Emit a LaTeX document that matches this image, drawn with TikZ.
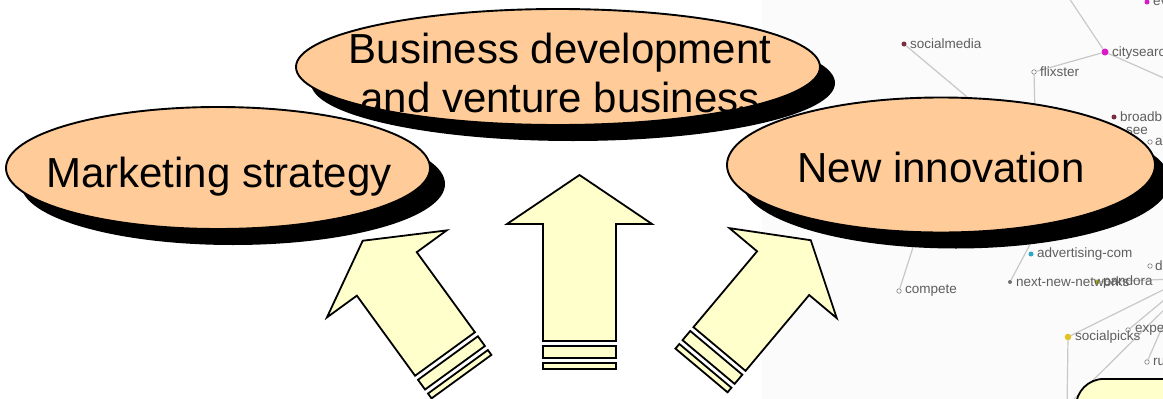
\documentclass[tikz,border=0pt]{standalone}
\usepackage{fontspec}
\setmainfont{Liberation Sans}
\usetikzlibrary{shapes.geometric,shadows}
\definecolor{peach}{HTML}{FFCC99}
\definecolor{paleyellow}{HTML}{FFFFCC}
\definecolor{netline}{HTML}{C8C8C8}
\definecolor{netlabel}{HTML}{5E5E5E}
\definecolor{netbg}{HTML}{FBFBFB}
\definecolor{magentadot}{HTML}{D81AC8}
\definecolor{darkreddot}{HTML}{7A2E40}
\definecolor{cyandot}{HTML}{2EA6C8}
\definecolor{greendot}{HTML}{A8B020}
\definecolor{yellowdot}{HTML}{E2C21E}
\definecolor{graydot}{HTML}{707070}
\newcommand\fatarrow[6]{%
  \begin{scope}[shift={#1}, rotate=#2]
    \filldraw[arrowbody] (-#3,0) -- (#3,0) -- (#3,-#4) -- (#5,-#4) -- (0,-#4-#6) -- (-#5,-#4) -- (-#3,-#4) -- cycle;
    \filldraw[arrowbody] (-#3,5) rectangle (#3,17);
    \filldraw[arrowbody] (-#3,22) rectangle (#3,28);
  \end{scope}}
\tikzset{
  bubble/.style={ellipse, draw=black, line width=1.9pt, fill=peach, inner sep=0pt,
    drop shadow={shadow xshift=15pt, shadow yshift=-16pt, fill=black, opacity=1}},
  bigtext/.style={font=\fontsize{42}{49}\selectfont, text=black, inner sep=0pt, align=center},
  arrowbody/.style={draw=black, line width=1.8pt, fill=paleyellow, line join=miter},
  netdot/.style={circle, inner sep=0pt, minimum size=5pt},
  hollowdot/.style={circle, draw=netlabel!80, fill=white, line width=0.6pt, inner sep=0pt, minimum size=4.5pt},
  netlab/.style={font=\fontsize{13.5}{14}\selectfont, text=netlabel, inner sep=0pt, anchor=west},
  netedge/.style={draw=netline, line width=1.2pt},
}
\begin{document}
\begin{tikzpicture}[x=1pt, y=-1pt]
\useasboundingbox (0,0) rectangle (1163,399);
% background network screenshot
\fill[netbg] (762,0) rectangle (1163,399);
\coordinate (e1) at (1067,-5);
\coordinate (e2) at (1175,83);
\coordinate (e3) at (1035,115);
\coordinate (e4) at (985,112);
\coordinate (e5) at (917,235);
\coordinate (e6) at (1035,235);
\coordinate (e7) at (1175,279);
\coordinate (e8) at (1175,284);
\coordinate (e9) at (1175,291);
\coordinate (e10) at (1175,298);
\coordinate (e11) at (1060,413);
\coordinate (e12) at (1178,296);
\coordinate (e13) at (1067,410);
\node[netdot, fill=magentadot] (ev) at (1147,2) {};
\node[netdot, fill=magentadot, minimum size=7pt] (cs) at (1105,52) {};
\node[hollowdot] (fx) at (1034,72) {};
\node[netdot, fill=darkreddot] (sm) at (904,44) {};
\node[netdot, fill=darkreddot] (bb) at (1114,117) {};
\node[hollowdot] (na) at (1150,142) {};
\node[netdot, fill=cyandot] (ad) at (1031,254) {};
\node[hollowdot] (nd) at (1150,266) {};
\node[netdot, fill=graydot, minimum size=4pt] (nn) at (1010,282) {};
\node[netdot, fill=greendot] (pd) at (1097,282) {};
\node[hollowdot] (cp) at (899,291) {};
\node[netdot, fill=yellowdot, minimum size=6.5pt] (sp) at (1068,337) {};
\node[hollowdot] (ex) at (1128,330) {};
\node[hollowdot] (ru) at (1147,362) {};
\draw[netedge] (e1) -- (cs);
\draw[netedge] (cs) -- (fx);
\draw[netedge] (cs) -- (e2);
\draw[netedge] (fx) -- (e3);
\draw[netedge] (sm) -- (e4);
\draw[netedge] (cp) -- (e5);
\draw[netedge] (nn) -- (e6);
\draw[netedge] (pd) -- (e7);
\draw[netedge] (e8) -- (sp);
\draw[netedge] (e9) -- (ex);
\draw[netedge] (e10) -- (ru);
\draw[netedge] (e11) -- (e12);
\draw[netedge] (sp) -- (e13);
\node[netlab] (evl) at (1153,2) {ev};
\node[netlab] (csl) at (1112,53) {citysearch};
\node[netlab] (fxl) at (1040,72) {flixster};
\node[netlab] (sml) at (910,44) {socialmedia};
\node[netlab] (bbl) at (1120,117) {broadb};
\node[netlab] (seel) at (1126,131) {see};
\node[netlab] (nal) at (1155,142) {a};
\node[netlab] (adl) at (1037,254) {advertising-com};
\node[netlab] (ndl) at (1155,266) {d};
\node[netlab] (nnl) at (1016,282) {next-new-networks};
\node[netlab] (pdl) at (1103,282) {pandora};
\node[netlab] (cpl) at (905,291) {compete};
\node[netlab] (spl) at (1075,337) {socialpicks};
\node[netlab] (exl) at (1135,330) {expe};
\node[netlab] (rul) at (1153,362) {ru};
\node[draw=black, line width=1.8pt, fill=paleyellow, rounded corners=28pt,
      minimum width=200pt, minimum height=120pt, anchor=north west] (box) at (1075,378) {};
% ellipses
\node[bubble, minimum width=424pt, minimum height=122pt] (mkt) at (218,168) {};
\node[bigtext, anchor=base] (mktt) at (219,187) {Marketing strategy};
\node[bubble, minimum width=524pt, minimum height=116pt] (biz) at (558,67) {};
\node[bigtext] (bizt) at (560,73) {Business development\\and venture business};
\node[bubble, minimum width=428pt, minimum height=135pt] (ni) at (941,165) {};
\node[bigtext, anchor=base] (nit) at (941,182) {New innovation};
% arrows
\fatarrow{(445,354)}{36}{37}{99}{74}{41}
\fatarrow{(579.5,341)}{0}{36.5}{117}{72.5}{49}
\fatarrow{(719.5,349)}{-40}{34}{99}{70}{43}
\end{tikzpicture}
\end{document}
